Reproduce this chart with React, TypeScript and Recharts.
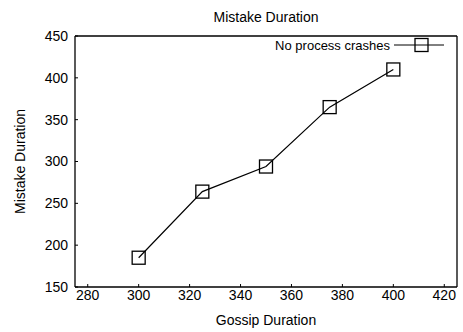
import { Label, Legend, Line, LineChart, XAxis, YAxis } from "recharts";

const gossipDuration = [300, 325, 350, 375, 400];
const mistakeDuration = [185, 264, 294, 365, 410];
const xTicks = [280, 300, 320, 340, 360, 380, 400, 420];
const yTicks = [150, 200, 250, 300, 350, 400, 450];
const seriesName = "No process crashes";

const data = gossipDuration.map((g, i) => ({ gossip: g, mistake: mistakeDuration[i] }));

const font = "'Liberation Sans', Arial, Helvetica, sans-serif";

function SquareDot(props: { cx?: number; cy?: number; index?: number }) {
  const { cx, cy, index } = props;
  if (cx == null || cy == null) return null;
  return (
    <rect
      key={`dot-${index}`}
      x={cx - 6.5}
      y={cy - 6.5}
      width={13}
      height={13}
      fill="none"
      stroke="#000"
      strokeWidth={1.3}
    />
  );
}

function LegendBox() {
  return (
    <div style={{ display: "flex", alignItems: "center", fontSize: 13, color: "#000" }}>
      <span style={{ marginRight: 4 }}>{seriesName}</span>
      <svg width={50} height={16}>
        <line x1={0} y1={8} x2={50} y2={8} stroke="#000" strokeWidth={1} />
        <rect x={21} y={1.5} width={13} height={13} fill="none" stroke="#000" strokeWidth={1.3} />
      </svg>
    </div>
  );
}

export default function App() {
  return (
    <div
      style={{
        position: "absolute",
        left: 0,
        top: 0,
        width: 463,
        height: 332,
        background: "#fff",
        fontFamily: font,
      }}
    >
      <div
        style={{
          position: "absolute",
          top: 9,
          left: 75,
          width: 382,
          textAlign: "center",
          fontSize: 14,
          color: "#000",
        }}
      >
        Mistake Duration
      </div>
      <LineChart
        width={463}
        height={332}
        data={data}
        margin={{ top: 35, right: 5, left: 30, bottom: 0 }}
      >
        <XAxis
          dataKey="gossip"
          type="number"
          domain={[275, 425]}
          ticks={xTicks}
          height={45}
          tickSize={-3}
          tickMargin={6}
          tick={{ fill: "#000", fontSize: 14 }}
          axisLine={{ stroke: "#000", strokeWidth: 1.3 }}
          tickLine={{ stroke: "#000" }}
        >
          <Label value="Gossip Duration" position="insideBottom" offset={7} fill="#000" fontSize={14} />
        </XAxis>
        <XAxis
          xAxisId="top"
          orientation="top"
          dataKey="gossip"
          type="number"
          domain={[275, 425]}
          ticks={xTicks}
          height={1}
          tickSize={-3}
          tick={false}
          axisLine={{ stroke: "#000", strokeWidth: 1.3 }}
          tickLine={{ stroke: "#000" }}
        />
        <YAxis
          type="number"
          domain={[150, 450]}
          ticks={yTicks}
          width={45}
          tickSize={-3}
          tickMargin={10}
          tick={{ fill: "#000", fontSize: 14 }}
          axisLine={{ stroke: "#000", strokeWidth: 1.3 }}
          tickLine={{ stroke: "#000" }}
        >
          <Label
            content={(p: any) => {
              const vb = p.viewBox || {};
              const cy = (vb.y ?? 36) + (vb.height ?? 251) / 2;
              return (
                <text
                  x={25}
                  y={cy}
                  transform={`rotate(-90, 25, ${cy})`}
                  textAnchor="middle"
                  fill="#000"
                  fontSize={14}
                >
                  Mistake Duration
                </text>
              );
            }}
          />
        </YAxis>
        <YAxis
          yAxisId="right"
          orientation="right"
          type="number"
          domain={[150, 450]}
          ticks={yTicks}
          width={1}
          tickSize={-3}
          tick={false}
          axisLine={{ stroke: "#000", strokeWidth: 1.3 }}
          tickLine={{ stroke: "#000" }}
        />
        <Legend
          layout="horizontal"
          verticalAlign="middle"
          align="center"
          content={() => <LegendBox />}
          wrapperStyle={{ top: 37, right: 19, left: "auto", width: "auto", height: "auto" }}
        />
        {/* invisible copy so the top/right frame axes get rendered */}
        <Line
          xAxisId="top"
          yAxisId="right"
          dataKey="mistake"
          stroke="none"
          dot={false}
          activeDot={false}
          legendType="none"
          isAnimationActive={false}
        />
        <Line
          dataKey="mistake"
          name={seriesName}
          type="linear"
          stroke="#000"
          strokeWidth={1.2}
          dot={(p: any) => <SquareDot {...p} />}
          activeDot={false}
          isAnimationActive={false}
        />
      </LineChart>
    </div>
  );
}
